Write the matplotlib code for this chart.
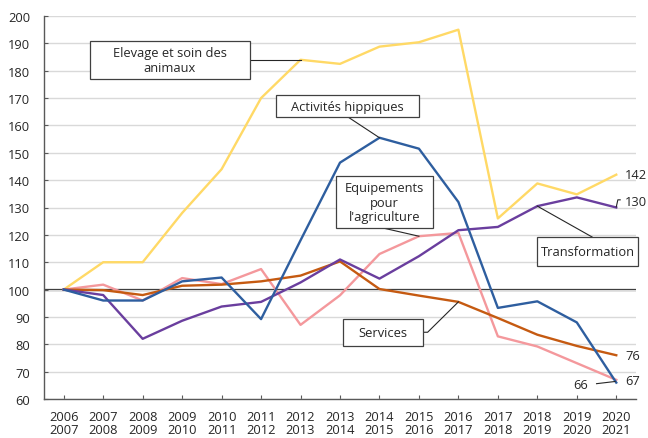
import matplotlib
matplotlib.use("Agg")
import matplotlib.pyplot as plt
from matplotlib.patches import Rectangle
import numpy as np

plt.rcParams['font.family'] = ['Open Sans', 'DejaVu Sans']

years = [f"{y}\n{y+1}" for y in range(2006, 2021)]

elevage = [100, 110, 110, 128, 144, 170, 184, 182.5, 188.8, 190.4, 195, 126, 138.8, 134.8, 142]
hippiques = [100, 96, 96, 103, 104.4, 89.2, 118, 146.4, 155.5, 151.5, 132, 93.3, 95.7, 88, 66]
transformation = [100, 98, 82, 88.6, 93.8, 95.5, 102.6, 111, 104, 112.2, 121.7, 122.9, 130.5, 133.7, 130]
equipements = [100, 101.8, 96, 104.2, 102, 107.5, 87.1, 97.9, 113, 119.5, 120.7, 82.9, 79.2, 73.1, 67]
services = [100, 99.8, 98, 101.4, 101.8, 103, 105.1, 110.3, 100.2, 97.8, 95.5, 89.6, 83.5, 79.4, 76]

c_elev = "#FFD966"
c_hipp = "#2E5E9F"
c_trans = "#6A3E9E"
c_equip = "#F4989C"
c_serv = "#C55A11"
txt = "#262626"

fig = plt.figure(figsize=(6.48, 4.39), dpi=100)
ax = fig.add_axes([44/648, 39/439, 592/648, 383/439])

x = np.arange(len(years))
ax.set_xlim(-0.5, 14.5)
ax.set_ylim(60, 200)
ax.set_yticks(np.arange(60, 201, 10))
ax.grid(axis='y', color='#d9d9d9', linewidth=1.0, zorder=0)
ax.axhline(100, color='#1a1a1a', linewidth=1.6, zorder=1)

lw = 1.7
ax.plot(x, elevage, color=c_elev, lw=lw, zorder=3)
ax.plot(x, equipements, color=c_equip, lw=lw, zorder=3)
ax.plot(x, services, color=c_serv, lw=lw, zorder=3)
ax.plot(x, transformation, color=c_trans, lw=lw, zorder=3)
ax.plot(x, hippiques, color=c_hipp, lw=lw, zorder=4)

ax.set_xticks(x)
ax.set_xticklabels(years, linespacing=1.0)
for s in ['top', 'right']:
    ax.spines[s].set_visible(False)
for s in ['left', 'bottom']:
    ax.spines[s].set_color('#595959')
    ax.spines[s].set_linewidth(1.0)
ax.tick_params(axis='both', direction='in', length=3, color='#595959',
               labelsize=9.3, labelcolor=txt)
ax.tick_params(axis='x', pad=8)
ax.tick_params(axis='y', pad=10)

fs = 9.3
def box(x0, x1, y0, y1, label, ls=1.25):
    ax.add_patch(Rectangle((x0, y0), x1 - x0, y1 - y0, facecolor='white',
                           edgecolor='#404040', lw=0.9, zorder=6, clip_on=False))
    ax.text((x0 + x1) / 2, (y0 + y1) / 2, label, ha='center', va='center',
            fontsize=fs, color=txt, zorder=7, linespacing=ls)

def leader(xs, ys):
    ax.plot(xs, ys, color='#262626', lw=0.8, zorder=5, clip_on=False)

# Elevage
box(0.66, 4.72, 177.0, 191.0, "Elevage et soin des\nanimaux")
leader([4.72, 6], [elevage[6], elevage[6]])
# Activités hippiques
box(5.38, 9.0, 163.1, 171.1, "Activités hippiques")
leader([7.2, 8], [163.1, hippiques[8]])
# Equipements
box(6.89, 9.36, 122.5, 141.5, "Equipements\npour\nl'agriculture", ls=1.15)
leader([8.09, 9], [122.5, equipements[9]])
# Transformation
box(12.0, 14.56, 108.6, 119.2, "Transformation")
leader([13.39, 12], [119.2, transformation[12]])
# Services
box(7.08, 9.10, 79.4, 89.2, "Services")
leader([9.10, 9.22, 10], [84.4, 84.4, services[10]])

# End labels
ax.text(14.22, elevage[14], f"{elevage[14]:.0f}", ha='left', va='center', fontsize=fs, color=txt)
ax.text(14.22, 132.3, f"{transformation[14]:.0f}", ha='left', va='center', fontsize=fs, color=txt)
leader([14.0, 14.04, 14.1], [transformation[14] + 0.2, 132.8, 132.8])
ax.text(14.22, services[14], f"{services[14]:.0f}", ha='left', va='center', fontsize=fs, color=txt)
ax.text(14.22, equipements[14] - 0.1, f"{equipements[14]:.0f}", ha='left', va='center', fontsize=fs, color=txt)
ax.text(13.28, hippiques[14] - 0.6, f"{hippiques[14]:.0f}", ha='right', va='center', fontsize=fs, color=txt)
leader([13.5, 13.97], [65.6, hippiques[14] + 0.4])

fig.savefig("out.png", dpi=100)
